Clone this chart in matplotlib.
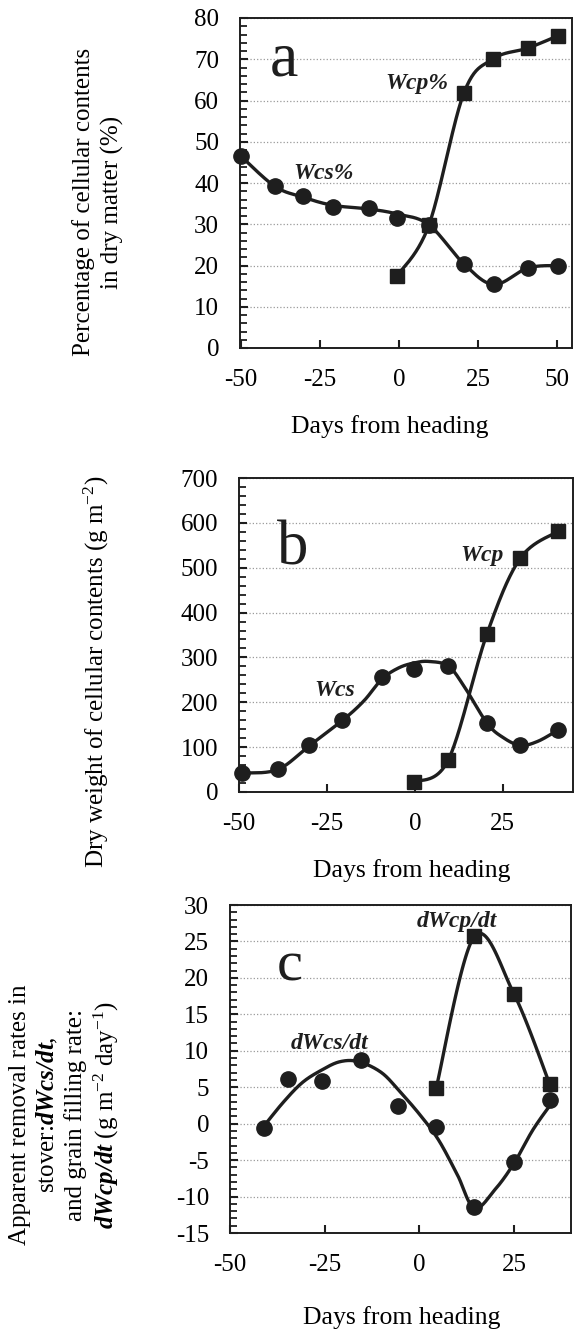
import matplotlib
matplotlib.use('Agg')
import matplotlib.pyplot as plt
from matplotlib.ticker import MultipleLocator
import numpy as np

plt.rcParams['font.family'] = ['Liberation Serif', 'DejaVu Serif']
plt.rcParams['mathtext.fontset'] = 'custom'
plt.rcParams['mathtext.rm'] = 'Liberation Serif'
plt.rcParams['mathtext.it'] = 'Liberation Serif:italic'
plt.rcParams['mathtext.bf'] = 'Liberation Serif:bold'
plt.rcParams['mathtext.bfit'] = 'Liberation Serif:italic:bold'
plt.rcParams['axes.unicode_minus'] = False

# panel a: percentage of cellular contents in dry matter
days_a_cs = [-50, -39.3, -30.5, -21, -9.6, -0.7, 9.4, 20.5, 30, 40.7, 50.3]
wcs_pct = [46.5, 39.2, 36.9, 34.2, 33.9, 31.5, 29.9, 20.4, 15.4, 19.4, 20.0]
days_a_cp = [-0.7, 9.4, 20.5, 29.8, 40.7, 50.3]
wcp_pct = [17.4, 29.7, 61.8, 70.1, 72.7, 75.7]
# smoothed line for Wcs%
fit_a_x = [-50, -39.3, -30.5, -21, -9.6, -0.7, 9.4, 20.5, 30, 40.7, 50.3]
fit_a_y = [46.5, 39.2, 36.6, 34.6, 33.7, 32.5, 29.9, 20.4, 15.4, 19.4, 20.0]

# panel b: dry weight of cellular contents
days_b_cs = [-49.2, -39, -30, -20.6, -9.3, -0.3, 9.5, 20.5, 30, 40.7]
wcs_wt = [42, 52, 104, 160, 257, 275, 281, 154, 104, 138]
days_b_cp = [-0.3, 9.5, 20.5, 30, 40.7]
wcp_wt = [22, 71, 352, 521, 581]
# fitted curve for Wcs
fit_b_x = [-49.2, -39, -30, -20.5, -14.5, -9.3, -4.5, 0, 4, 9.5, 14, 20.5, 25, 30, 35, 40.7]
fit_b_y = [42, 50, 103, 160, 203, 252, 277, 288, 291, 281, 236, 154, 122, 104, 113, 138]

# panel c: rates
days_c_cs = [-41, -34.7, -25.7, -15.5, -5.6, 4.4, 14.5, 24.9, 34.4]
dwcs_rate = [-0.6, 6.1, 5.9, 8.8, 2.4, -0.4, -11.5, -5.3, 3.3]
days_c_cp = [4.4, 14.5, 24.9, 34.4]
dwcp_rate = [4.85, 25.7, 17.85, 5.4]
# fitted curve for dWcs/dt
fit_c_x = [-41, -36, -31, -26, -21, -16, -10, -5, 0, 5, 10, 14.5, 20, 25, 30, 35]
fit_c_y = [-0.3, 2.9, 5.6, 7.3, 8.5, 8.5, 7.0, 4.3, 1.3, -2.2, -7.0, -11.6, -9.0, -5.4, -0.8, 2.9]

W, H = 574, 1332
ink = '#1e1e1e'


def smooth(x, y, n=40):
    # excel-like smoothed line (catmull-rom as bezier)
    p = np.column_stack([x, y]).astype(float)
    out = [p[:1]]
    t = np.linspace(0, 1, n)[1:, None]
    for i in range(len(p) - 1):
        p0 = p[i - 1] if i > 0 else p[i]
        p1, p2 = p[i], p[i + 1]
        p3 = p[i + 2] if i + 2 < len(p) else p[i + 1]
        c1 = p1 + (p2 - p0) / 6
        c2 = p2 - (p3 - p1) / 6
        seg = ((1 - t) ** 3) * p1 + 3 * ((1 - t) ** 2) * t * c1 + 3 * (1 - t) * t ** 2 * c2 + t ** 3 * p2
        out.append(seg)
    out = np.vstack(out)
    return out[:, 0], out[:, 1]


def box(l, t, r, b):
    return [l / W, 1 - b / H, (r - l) / W, (b - t) / H]


def style(ax, xlim, ylim, ymaj, ymin):
    ax.set_xlim(*xlim)
    ax.set_ylim(*ylim)
    ax.xaxis.set_major_locator(MultipleLocator(25))
    ax.yaxis.set_major_locator(MultipleLocator(ymaj))
    ax.yaxis.set_minor_locator(MultipleLocator(ymin))
    ax.grid(axis='y', which='major', color='#9a9a9a', linestyle=':', linewidth=0.9)
    ax.set_axisbelow(True)
    for s in ax.spines.values():
        s.set_linewidth(1.4)
        s.set_color(ink)
    ax.tick_params(axis='both', which='major', direction='in', length=6, width=1.5,
                   color=ink, labelsize=18, pad=15)
    ax.tick_params(axis='y', which='minor', direction='in', length=5, width=1.3, color=ink)
    ax.tick_params(axis='x', which='minor', length=0)


def series(ax, x, y, marker, ms, curve=None):
    cx, cy = smooth(*(curve if curve else (x, y)))
    ax.plot(cx, cy, color=ink, lw=2.4, zorder=3, clip_on=False, solid_capstyle='round')
    ax.plot(x, y, linestyle='none', marker=marker, ms=ms, color=ink, zorder=4, clip_on=False)


def labels(ax, ylabel, ypos, xpos, ls=1.2):
    ax.set_ylabel(ylabel, fontsize=18, linespacing=ls)
    ax.yaxis.set_label_coords(ypos[0] / W, 1 - ypos[1] / H, transform=fig.transFigure)
    ax.yaxis.label.set_va('center')
    ax.set_xlabel('Days from heading', fontsize=18.5)
    ax.xaxis.set_label_coords(xpos[0] / W, 1 - xpos[1] / H, transform=fig.transFigure)
    ax.xaxis.label.set_va('center')


fig = plt.figure(figsize=(W / 100, H / 100), dpi=100)
tag = dict(fontsize=17, fontweight='bold', fontstyle='italic', ha='center', va='center', color=ink)

# a
ax1 = fig.add_axes(box(240, 18, 572, 348))
style(ax1, (-50.3, 54.7), (0, 80), 10, 2)
series(ax1, days_a_cs, wcs_pct, 'o', 11, curve=(fit_a_x, fit_a_y))
series(ax1, days_a_cp, wcp_pct, 's', 10)
ax1.text(-36.4, 69.8, 'a', fontsize=46, ha='center', va='center', color=ink)
ax1.text(5.7, 64.2, 'Wcp%', **tag)
ax1.text(-23.8, 42.4, 'Wcs%', **tag)
labels(ax1, 'Percentage of cellular contents\nin dry matter (%)', (98, 202), (390, 427), ls=1.35)

# b
ax2 = fig.add_axes(box(239, 478, 573, 792))
style(ax2, (-50, 45), (0, 700), 100, 20)
series(ax2, days_b_cs, wcs_wt, 'o', 11, curve=(fit_b_x, fit_b_y))
series(ax2, days_b_cp, wcp_wt, 's', 10)
ax2.text(-34.7, 540, 'b', fontsize=45, ha='center', va='center', color=ink)
ax2.text(19.2, 527, 'Wcp', **tag)
ax2.text(-22.7, 227, 'Wcs', **tag)
labels(ax2, 'Dry weight of cellular contents (g m$^{-2}$)', (96, 672), (412, 871))

# c
ax3 = fig.add_axes(box(230, 905, 571, 1233))
style(ax3, (-50, 40), (-15, 30), 5, 1)
series(ax3, days_c_cs, dwcs_rate, 'o', 11, curve=(fit_c_x, fit_c_y))
series(ax3, days_c_cp, dwcp_rate, 's', 10)
ax3.text(-34.2, 21.6, 'c', fontsize=42, ha='center', va='center', color=ink)
ax3.text(9.9, 27.7, 'dWcp/dt', **tag)
ax3.text(-23.7, 11.0, 'dWcs/dt', **tag)
labels(ax3, 'Apparent removal rates in\nstover:$\\mathbfit{dWcs/dt}$,\nand grain filling rate:\n'
       '$\\mathbfit{dWcp/dt}$ (g m$^{-2}$ day$^{-1}$)', (65, 1115), (402, 1318))

fig.savefig('out.png', dpi=100)
